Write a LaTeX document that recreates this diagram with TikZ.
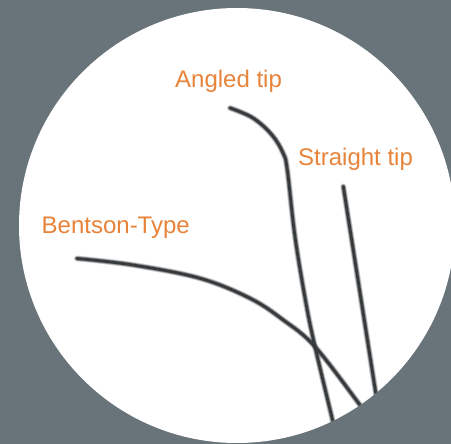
\documentclass[tikz,border=0pt]{standalone}
\usepackage{fontspec}
\setmainfont{Liberation Sans}
\definecolor{bggray}{RGB}{105,115,122}
\definecolor{labelorange}{RGB}{232,131,58}
\definecolor{wirecore}{RGB}{55,58,60}
\tikzset{
  x=1pt, y=-1pt,
  label text/.style={anchor=base west, inner sep=0pt, text=labelorange,
    font=\fontsize{24}{28}\selectfont},
  wire halo/.style={line width=6pt, draw=wirecore, opacity=0.22, line cap=round, line join=round},
  wire mid/.style={line width=4.4pt, draw=wirecore, opacity=0.45, line cap=round, line join=round},
  wire core/.style={line width=2.8pt, draw=wirecore, line cap=round, line join=round},
}
\begin{document}
\begin{tikzpicture}
  \useasboundingbox (0,0) rectangle (451,444);
  \fill[bggray] (0,0) rectangle (451,444);
  \fill[white] (237,225.5) ellipse [x radius=218, y radius=217.5];

  \node[label text] (angled) at (175,88) {Angled tip};
  \node[label text] (straight) at (298,166) {Straight tip};
  \node[label text] (bentson) at (41.5,233.5) {Bentson-Type};

  \begin{scope}
    \clip (237,225.5) ellipse [x radius=218, y radius=217.5];
    % Bentson-Type wire
    \foreach \st in {wire halo, wire mid, wire core}
      \draw[\st] plot[smooth, tension=0.6] coordinates
        {(77,258.5) (133,265) (200,278.3) (250,298.3) (283.3,320) (315,346.7) (360,405) (372,421)};
    % Angled tip wire
    \foreach \st in {wire halo, wire mid, wire core}
      \draw[\st] plot[smooth, tension=0.6] coordinates
        {(230,108) (253,118) (272,135) (283,153) (287.3,170) (295,236.7) (306,303.3) (315,346.7) (333.3,423.3) (338,445)};
    % Straight tip wire
    \foreach \st in {wire halo, wire mid, wire core}
      \draw[\st] (343.3,186.5) -- (380,420);
  \end{scope}
\end{tikzpicture}
\end{document}
